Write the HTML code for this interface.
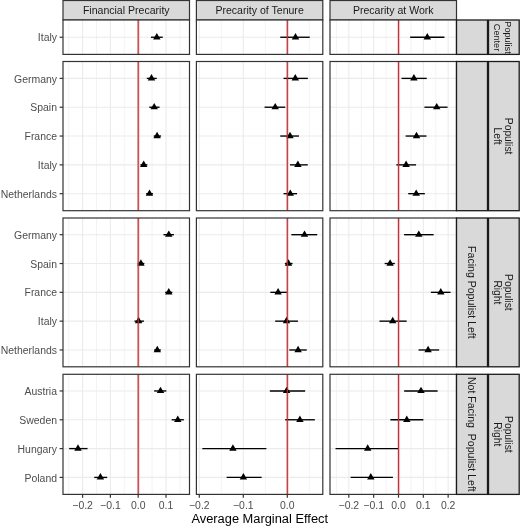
<!DOCTYPE html>
<html><head><meta charset="utf-8"><style>
html,body{margin:0;padding:0;background:#fff;width:520px;height:526px;overflow:hidden}
svg{display:block;font-family:"Liberation Sans", sans-serif;will-change:transform}
</style></head><body>
<svg width="520" height="526" viewBox="0 0 520 526">
<rect x="0" y="0" width="520" height="526" fill="#ffffff"/>
<rect x="63" y="0.5" width="126.5" height="19.5" fill="#D9D9D9" stroke="#333333" stroke-width="1.2"/>
<text x="126.25" y="13.8" text-anchor="middle" font-size="10.55" fill="#1A1A1A">Financial Precarity</text>
<rect x="196.4" y="0.5" width="126.4" height="19.5" fill="#D9D9D9" stroke="#333333" stroke-width="1.2"/>
<text x="259.6" y="13.8" text-anchor="middle" font-size="10.55" fill="#1A1A1A">Precarity of Tenure</text>
<rect x="330" y="0.5" width="126.5" height="19.5" fill="#D9D9D9" stroke="#333333" stroke-width="1.2"/>
<text x="393.25" y="13.8" text-anchor="middle" font-size="10.55" fill="#1A1A1A">Precarity at Work</text>
<rect x="63" y="20" width="126.5" height="34.4" fill="#ffffff"/>
<line x1="68.7" y1="20" x2="68.7" y2="54.4" stroke="#EBEBEB" stroke-width="0.6"/>
<line x1="82.6" y1="20" x2="82.6" y2="54.4" stroke="#EBEBEB" stroke-width="1.1"/>
<line x1="96.5" y1="20" x2="96.5" y2="54.4" stroke="#EBEBEB" stroke-width="0.6"/>
<line x1="110.4" y1="20" x2="110.4" y2="54.4" stroke="#EBEBEB" stroke-width="1.1"/>
<line x1="124.3" y1="20" x2="124.3" y2="54.4" stroke="#EBEBEB" stroke-width="0.6"/>
<line x1="138.2" y1="20" x2="138.2" y2="54.4" stroke="#EBEBEB" stroke-width="1.1"/>
<line x1="152.1" y1="20" x2="152.1" y2="54.4" stroke="#EBEBEB" stroke-width="0.6"/>
<line x1="166" y1="20" x2="166" y2="54.4" stroke="#EBEBEB" stroke-width="1.1"/>
<line x1="179.9" y1="20" x2="179.9" y2="54.4" stroke="#EBEBEB" stroke-width="0.6"/>
<line x1="63" y1="37.25" x2="189.5" y2="37.25" stroke="#EBEBEB" stroke-width="1.1"/>
<line x1="138.5" y1="20" x2="138.5" y2="54.4" stroke="#FFCCCC" stroke-width="2.6"/>
<line x1="150.95" y1="37.25" x2="162.75" y2="37.25" stroke="#000" stroke-width="1.35"/>
<path d="M156.8 32.95L160.52 39.4L153.08 39.4Z" fill="#000"/>
<line x1="138.2" y1="20" x2="138.2" y2="54.4" stroke="#B03A42" stroke-width="1.2"/>
<rect x="63" y="20" width="126.5" height="34.4" fill="none" stroke="#333333" stroke-width="1.2"/>
<rect x="196.4" y="20" width="126.4" height="34.4" fill="#ffffff"/>
<line x1="199.3" y1="20" x2="199.3" y2="54.4" stroke="#EBEBEB" stroke-width="1.1"/>
<line x1="221.3" y1="20" x2="221.3" y2="54.4" stroke="#EBEBEB" stroke-width="0.6"/>
<line x1="243.3" y1="20" x2="243.3" y2="54.4" stroke="#EBEBEB" stroke-width="1.1"/>
<line x1="265.3" y1="20" x2="265.3" y2="54.4" stroke="#EBEBEB" stroke-width="0.6"/>
<line x1="287.3" y1="20" x2="287.3" y2="54.4" stroke="#EBEBEB" stroke-width="1.1"/>
<line x1="309.3" y1="20" x2="309.3" y2="54.4" stroke="#EBEBEB" stroke-width="0.6"/>
<line x1="196.4" y1="37.25" x2="322.8" y2="37.25" stroke="#EBEBEB" stroke-width="1.1"/>
<line x1="287.6" y1="20" x2="287.6" y2="54.4" stroke="#FFCCCC" stroke-width="2.6"/>
<line x1="280.25" y1="37.25" x2="309.75" y2="37.25" stroke="#000" stroke-width="1.35"/>
<path d="M295.5 32.95L299.22 39.4L291.78 39.4Z" fill="#000"/>
<line x1="287.3" y1="20" x2="287.3" y2="54.4" stroke="#B03A42" stroke-width="1.2"/>
<rect x="196.4" y="20" width="126.4" height="34.4" fill="none" stroke="#333333" stroke-width="1.2"/>
<rect x="330" y="20" width="126.5" height="34.4" fill="#ffffff"/>
<line x1="336.43" y1="20" x2="336.43" y2="54.4" stroke="#EBEBEB" stroke-width="0.6"/>
<line x1="348.84" y1="20" x2="348.84" y2="54.4" stroke="#EBEBEB" stroke-width="1.1"/>
<line x1="361.25" y1="20" x2="361.25" y2="54.4" stroke="#EBEBEB" stroke-width="0.6"/>
<line x1="373.67" y1="20" x2="373.67" y2="54.4" stroke="#EBEBEB" stroke-width="1.1"/>
<line x1="386.08" y1="20" x2="386.08" y2="54.4" stroke="#EBEBEB" stroke-width="0.6"/>
<line x1="398.5" y1="20" x2="398.5" y2="54.4" stroke="#EBEBEB" stroke-width="1.1"/>
<line x1="410.92" y1="20" x2="410.92" y2="54.4" stroke="#EBEBEB" stroke-width="0.6"/>
<line x1="423.33" y1="20" x2="423.33" y2="54.4" stroke="#EBEBEB" stroke-width="1.1"/>
<line x1="435.75" y1="20" x2="435.75" y2="54.4" stroke="#EBEBEB" stroke-width="0.6"/>
<line x1="448.16" y1="20" x2="448.16" y2="54.4" stroke="#EBEBEB" stroke-width="1.1"/>
<line x1="330" y1="37.25" x2="456.5" y2="37.25" stroke="#EBEBEB" stroke-width="1.1"/>
<line x1="398.8" y1="20" x2="398.8" y2="54.4" stroke="#FFCCCC" stroke-width="2.6"/>
<line x1="410.15" y1="37.25" x2="444.45" y2="37.25" stroke="#000" stroke-width="1.35"/>
<path d="M427.3 32.95L431.02 39.4L423.58 39.4Z" fill="#000"/>
<line x1="398.5" y1="20" x2="398.5" y2="54.4" stroke="#B03A42" stroke-width="1.2"/>
<rect x="330" y="20" width="126.5" height="34.4" fill="none" stroke="#333333" stroke-width="1.2"/>
<line x1="59.6" y1="37.25" x2="63" y2="37.25" stroke="#333333" stroke-width="1.2"/>
<text x="57.0" y="41.35" text-anchor="end" font-size="10.45" fill="#4D4D4D">Italy</text>
<rect x="63" y="61.5" width="126.5" height="149.2" fill="#ffffff"/>
<line x1="68.7" y1="61.5" x2="68.7" y2="210.7" stroke="#EBEBEB" stroke-width="0.6"/>
<line x1="82.6" y1="61.5" x2="82.6" y2="210.7" stroke="#EBEBEB" stroke-width="1.1"/>
<line x1="96.5" y1="61.5" x2="96.5" y2="210.7" stroke="#EBEBEB" stroke-width="0.6"/>
<line x1="110.4" y1="61.5" x2="110.4" y2="210.7" stroke="#EBEBEB" stroke-width="1.1"/>
<line x1="124.3" y1="61.5" x2="124.3" y2="210.7" stroke="#EBEBEB" stroke-width="0.6"/>
<line x1="138.2" y1="61.5" x2="138.2" y2="210.7" stroke="#EBEBEB" stroke-width="1.1"/>
<line x1="152.1" y1="61.5" x2="152.1" y2="210.7" stroke="#EBEBEB" stroke-width="0.6"/>
<line x1="166" y1="61.5" x2="166" y2="210.7" stroke="#EBEBEB" stroke-width="1.1"/>
<line x1="179.9" y1="61.5" x2="179.9" y2="210.7" stroke="#EBEBEB" stroke-width="0.6"/>
<line x1="63" y1="78.4" x2="189.5" y2="78.4" stroke="#EBEBEB" stroke-width="1.1"/>
<line x1="63" y1="107.22" x2="189.5" y2="107.22" stroke="#EBEBEB" stroke-width="1.1"/>
<line x1="63" y1="136.04" x2="189.5" y2="136.04" stroke="#EBEBEB" stroke-width="1.1"/>
<line x1="63" y1="164.86" x2="189.5" y2="164.86" stroke="#EBEBEB" stroke-width="1.1"/>
<line x1="63" y1="193.68" x2="189.5" y2="193.68" stroke="#EBEBEB" stroke-width="1.1"/>
<line x1="138.5" y1="61.5" x2="138.5" y2="210.7" stroke="#FFCCCC" stroke-width="2.6"/>
<line x1="146.75" y1="78.4" x2="156.75" y2="78.4" stroke="#000" stroke-width="1.35"/>
<path d="M151.5 74.1L155.22 80.55L147.78 80.55Z" fill="#000"/>
<line x1="149.25" y1="107.22" x2="159.55" y2="107.22" stroke="#000" stroke-width="1.35"/>
<path d="M154.2 102.92L157.92 109.37L150.48 109.37Z" fill="#000"/>
<line x1="153.75" y1="136.04" x2="161.05" y2="136.04" stroke="#000" stroke-width="1.35"/>
<path d="M157.1 131.74L160.82 138.19L153.38 138.19Z" fill="#000"/>
<line x1="140.45" y1="164.86" x2="147.35" y2="164.86" stroke="#000" stroke-width="1.35"/>
<path d="M143.7 160.56L147.42 167.01L139.98 167.01Z" fill="#000"/>
<line x1="146.15" y1="193.68" x2="152.95" y2="193.68" stroke="#000" stroke-width="1.35"/>
<path d="M149.5 189.38L153.22 195.83L145.78 195.83Z" fill="#000"/>
<line x1="138.2" y1="61.5" x2="138.2" y2="210.7" stroke="#B03A42" stroke-width="1.2"/>
<rect x="63" y="61.5" width="126.5" height="149.2" fill="none" stroke="#333333" stroke-width="1.2"/>
<rect x="196.4" y="61.5" width="126.4" height="149.2" fill="#ffffff"/>
<line x1="199.3" y1="61.5" x2="199.3" y2="210.7" stroke="#EBEBEB" stroke-width="1.1"/>
<line x1="221.3" y1="61.5" x2="221.3" y2="210.7" stroke="#EBEBEB" stroke-width="0.6"/>
<line x1="243.3" y1="61.5" x2="243.3" y2="210.7" stroke="#EBEBEB" stroke-width="1.1"/>
<line x1="265.3" y1="61.5" x2="265.3" y2="210.7" stroke="#EBEBEB" stroke-width="0.6"/>
<line x1="287.3" y1="61.5" x2="287.3" y2="210.7" stroke="#EBEBEB" stroke-width="1.1"/>
<line x1="309.3" y1="61.5" x2="309.3" y2="210.7" stroke="#EBEBEB" stroke-width="0.6"/>
<line x1="196.4" y1="78.4" x2="322.8" y2="78.4" stroke="#EBEBEB" stroke-width="1.1"/>
<line x1="196.4" y1="107.22" x2="322.8" y2="107.22" stroke="#EBEBEB" stroke-width="1.1"/>
<line x1="196.4" y1="136.04" x2="322.8" y2="136.04" stroke="#EBEBEB" stroke-width="1.1"/>
<line x1="196.4" y1="164.86" x2="322.8" y2="164.86" stroke="#EBEBEB" stroke-width="1.1"/>
<line x1="196.4" y1="193.68" x2="322.8" y2="193.68" stroke="#EBEBEB" stroke-width="1.1"/>
<line x1="287.6" y1="61.5" x2="287.6" y2="210.7" stroke="#FFCCCC" stroke-width="2.6"/>
<line x1="283.55" y1="78.4" x2="307.85" y2="78.4" stroke="#000" stroke-width="1.35"/>
<path d="M295.3 74.1L299.02 80.55L291.58 80.55Z" fill="#000"/>
<line x1="264.55" y1="107.22" x2="285.25" y2="107.22" stroke="#000" stroke-width="1.35"/>
<path d="M275.2 102.92L278.92 109.37L271.48 109.37Z" fill="#000"/>
<line x1="280.25" y1="136.04" x2="298.95" y2="136.04" stroke="#000" stroke-width="1.35"/>
<path d="M290 131.74L293.72 138.19L286.28 138.19Z" fill="#000"/>
<line x1="290.05" y1="164.86" x2="307.75" y2="164.86" stroke="#000" stroke-width="1.35"/>
<path d="M297.9 160.56L301.62 167.01L294.18 167.01Z" fill="#000"/>
<line x1="283.55" y1="193.68" x2="297.05" y2="193.68" stroke="#000" stroke-width="1.35"/>
<path d="M290.3 189.38L294.02 195.83L286.58 195.83Z" fill="#000"/>
<line x1="287.3" y1="61.5" x2="287.3" y2="210.7" stroke="#B03A42" stroke-width="1.2"/>
<rect x="196.4" y="61.5" width="126.4" height="149.2" fill="none" stroke="#333333" stroke-width="1.2"/>
<rect x="330" y="61.5" width="126.5" height="149.2" fill="#ffffff"/>
<line x1="336.43" y1="61.5" x2="336.43" y2="210.7" stroke="#EBEBEB" stroke-width="0.6"/>
<line x1="348.84" y1="61.5" x2="348.84" y2="210.7" stroke="#EBEBEB" stroke-width="1.1"/>
<line x1="361.25" y1="61.5" x2="361.25" y2="210.7" stroke="#EBEBEB" stroke-width="0.6"/>
<line x1="373.67" y1="61.5" x2="373.67" y2="210.7" stroke="#EBEBEB" stroke-width="1.1"/>
<line x1="386.08" y1="61.5" x2="386.08" y2="210.7" stroke="#EBEBEB" stroke-width="0.6"/>
<line x1="398.5" y1="61.5" x2="398.5" y2="210.7" stroke="#EBEBEB" stroke-width="1.1"/>
<line x1="410.92" y1="61.5" x2="410.92" y2="210.7" stroke="#EBEBEB" stroke-width="0.6"/>
<line x1="423.33" y1="61.5" x2="423.33" y2="210.7" stroke="#EBEBEB" stroke-width="1.1"/>
<line x1="435.75" y1="61.5" x2="435.75" y2="210.7" stroke="#EBEBEB" stroke-width="0.6"/>
<line x1="448.16" y1="61.5" x2="448.16" y2="210.7" stroke="#EBEBEB" stroke-width="1.1"/>
<line x1="330" y1="78.4" x2="456.5" y2="78.4" stroke="#EBEBEB" stroke-width="1.1"/>
<line x1="330" y1="107.22" x2="456.5" y2="107.22" stroke="#EBEBEB" stroke-width="1.1"/>
<line x1="330" y1="136.04" x2="456.5" y2="136.04" stroke="#EBEBEB" stroke-width="1.1"/>
<line x1="330" y1="164.86" x2="456.5" y2="164.86" stroke="#EBEBEB" stroke-width="1.1"/>
<line x1="330" y1="193.68" x2="456.5" y2="193.68" stroke="#EBEBEB" stroke-width="1.1"/>
<line x1="398.8" y1="61.5" x2="398.8" y2="210.7" stroke="#FFCCCC" stroke-width="2.6"/>
<line x1="401.55" y1="78.4" x2="426.75" y2="78.4" stroke="#000" stroke-width="1.35"/>
<path d="M413.9 74.1L417.62 80.55L410.18 80.55Z" fill="#000"/>
<line x1="424.45" y1="107.22" x2="447.55" y2="107.22" stroke="#000" stroke-width="1.35"/>
<path d="M436.7 102.92L440.42 109.37L432.98 109.37Z" fill="#000"/>
<line x1="405.65" y1="136.04" x2="426.45" y2="136.04" stroke="#000" stroke-width="1.35"/>
<path d="M416.5 131.74L420.22 138.19L412.78 138.19Z" fill="#000"/>
<line x1="396.35" y1="164.86" x2="416.05" y2="164.86" stroke="#000" stroke-width="1.35"/>
<path d="M406.1 160.56L409.82 167.01L402.38 167.01Z" fill="#000"/>
<line x1="408.25" y1="193.68" x2="424.85" y2="193.68" stroke="#000" stroke-width="1.35"/>
<path d="M416.2 189.38L419.92 195.83L412.48 195.83Z" fill="#000"/>
<line x1="398.5" y1="61.5" x2="398.5" y2="210.7" stroke="#B03A42" stroke-width="1.2"/>
<rect x="330" y="61.5" width="126.5" height="149.2" fill="none" stroke="#333333" stroke-width="1.2"/>
<line x1="59.6" y1="78.4" x2="63" y2="78.4" stroke="#333333" stroke-width="1.2"/>
<text x="57.0" y="82.5" text-anchor="end" font-size="10.45" fill="#4D4D4D">Germany</text>
<line x1="59.6" y1="107.22" x2="63" y2="107.22" stroke="#333333" stroke-width="1.2"/>
<text x="57.0" y="111.32" text-anchor="end" font-size="10.45" fill="#4D4D4D">Spain</text>
<line x1="59.6" y1="136.04" x2="63" y2="136.04" stroke="#333333" stroke-width="1.2"/>
<text x="57.0" y="140.14" text-anchor="end" font-size="10.45" fill="#4D4D4D">France</text>
<line x1="59.6" y1="164.86" x2="63" y2="164.86" stroke="#333333" stroke-width="1.2"/>
<text x="57.0" y="168.96" text-anchor="end" font-size="10.45" fill="#4D4D4D">Italy</text>
<line x1="59.6" y1="193.68" x2="63" y2="193.68" stroke="#333333" stroke-width="1.2"/>
<text x="57.0" y="197.78" text-anchor="end" font-size="10.45" fill="#4D4D4D">Netherlands</text>
<rect x="63" y="218" width="126.5" height="148.8" fill="#ffffff"/>
<line x1="68.7" y1="218" x2="68.7" y2="366.8" stroke="#EBEBEB" stroke-width="0.6"/>
<line x1="82.6" y1="218" x2="82.6" y2="366.8" stroke="#EBEBEB" stroke-width="1.1"/>
<line x1="96.5" y1="218" x2="96.5" y2="366.8" stroke="#EBEBEB" stroke-width="0.6"/>
<line x1="110.4" y1="218" x2="110.4" y2="366.8" stroke="#EBEBEB" stroke-width="1.1"/>
<line x1="124.3" y1="218" x2="124.3" y2="366.8" stroke="#EBEBEB" stroke-width="0.6"/>
<line x1="138.2" y1="218" x2="138.2" y2="366.8" stroke="#EBEBEB" stroke-width="1.1"/>
<line x1="152.1" y1="218" x2="152.1" y2="366.8" stroke="#EBEBEB" stroke-width="0.6"/>
<line x1="166" y1="218" x2="166" y2="366.8" stroke="#EBEBEB" stroke-width="1.1"/>
<line x1="179.9" y1="218" x2="179.9" y2="366.8" stroke="#EBEBEB" stroke-width="0.6"/>
<line x1="63" y1="234.7" x2="189.5" y2="234.7" stroke="#EBEBEB" stroke-width="1.1"/>
<line x1="63" y1="263.52" x2="189.5" y2="263.52" stroke="#EBEBEB" stroke-width="1.1"/>
<line x1="63" y1="292.34" x2="189.5" y2="292.34" stroke="#EBEBEB" stroke-width="1.1"/>
<line x1="63" y1="321.16" x2="189.5" y2="321.16" stroke="#EBEBEB" stroke-width="1.1"/>
<line x1="63" y1="349.98" x2="189.5" y2="349.98" stroke="#EBEBEB" stroke-width="1.1"/>
<line x1="138.5" y1="218" x2="138.5" y2="366.8" stroke="#FFCCCC" stroke-width="2.6"/>
<line x1="163.45" y1="234.7" x2="173.95" y2="234.7" stroke="#000" stroke-width="1.35"/>
<path d="M168.8 230.4L172.52 236.85L165.08 236.85Z" fill="#000"/>
<line x1="137.65" y1="263.52" x2="144.35" y2="263.52" stroke="#000" stroke-width="1.35"/>
<path d="M140.9 259.22L144.62 265.67L137.18 265.67Z" fill="#000"/>
<line x1="165.15" y1="292.34" x2="172.35" y2="292.34" stroke="#000" stroke-width="1.35"/>
<path d="M168.8 288.04L172.52 294.49L165.08 294.49Z" fill="#000"/>
<line x1="134.45" y1="321.16" x2="143.95" y2="321.16" stroke="#000" stroke-width="1.35"/>
<path d="M138.6 316.86L142.32 323.31L134.88 323.31Z" fill="#000"/>
<line x1="154.15" y1="349.98" x2="160.85" y2="349.98" stroke="#000" stroke-width="1.35"/>
<path d="M157.3 345.68L161.02 352.13L153.58 352.13Z" fill="#000"/>
<line x1="138.2" y1="218" x2="138.2" y2="366.8" stroke="#B03A42" stroke-width="1.2"/>
<rect x="63" y="218" width="126.5" height="148.8" fill="none" stroke="#333333" stroke-width="1.2"/>
<rect x="196.4" y="218" width="126.4" height="148.8" fill="#ffffff"/>
<line x1="199.3" y1="218" x2="199.3" y2="366.8" stroke="#EBEBEB" stroke-width="1.1"/>
<line x1="221.3" y1="218" x2="221.3" y2="366.8" stroke="#EBEBEB" stroke-width="0.6"/>
<line x1="243.3" y1="218" x2="243.3" y2="366.8" stroke="#EBEBEB" stroke-width="1.1"/>
<line x1="265.3" y1="218" x2="265.3" y2="366.8" stroke="#EBEBEB" stroke-width="0.6"/>
<line x1="287.3" y1="218" x2="287.3" y2="366.8" stroke="#EBEBEB" stroke-width="1.1"/>
<line x1="309.3" y1="218" x2="309.3" y2="366.8" stroke="#EBEBEB" stroke-width="0.6"/>
<line x1="196.4" y1="234.7" x2="322.8" y2="234.7" stroke="#EBEBEB" stroke-width="1.1"/>
<line x1="196.4" y1="263.52" x2="322.8" y2="263.52" stroke="#EBEBEB" stroke-width="1.1"/>
<line x1="196.4" y1="292.34" x2="322.8" y2="292.34" stroke="#EBEBEB" stroke-width="1.1"/>
<line x1="196.4" y1="321.16" x2="322.8" y2="321.16" stroke="#EBEBEB" stroke-width="1.1"/>
<line x1="196.4" y1="349.98" x2="322.8" y2="349.98" stroke="#EBEBEB" stroke-width="1.1"/>
<line x1="287.6" y1="218" x2="287.6" y2="366.8" stroke="#FFCCCC" stroke-width="2.6"/>
<line x1="291.35" y1="234.7" x2="317.25" y2="234.7" stroke="#000" stroke-width="1.35"/>
<path d="M304.5 230.4L308.22 236.85L300.78 236.85Z" fill="#000"/>
<line x1="284.85" y1="263.52" x2="292.55" y2="263.52" stroke="#000" stroke-width="1.35"/>
<path d="M288.5 259.22L292.22 265.67L284.78 265.67Z" fill="#000"/>
<line x1="270.35" y1="292.34" x2="286.85" y2="292.34" stroke="#000" stroke-width="1.35"/>
<path d="M278.1 288.04L281.82 294.49L274.38 294.49Z" fill="#000"/>
<line x1="275.15" y1="321.16" x2="297.95" y2="321.16" stroke="#000" stroke-width="1.35"/>
<path d="M286.5 316.86L290.22 323.31L282.78 323.31Z" fill="#000"/>
<line x1="289.25" y1="349.98" x2="306.75" y2="349.98" stroke="#000" stroke-width="1.35"/>
<path d="M298.1 345.68L301.82 352.13L294.38 352.13Z" fill="#000"/>
<line x1="287.3" y1="218" x2="287.3" y2="366.8" stroke="#B03A42" stroke-width="1.2"/>
<rect x="196.4" y="218" width="126.4" height="148.8" fill="none" stroke="#333333" stroke-width="1.2"/>
<rect x="330" y="218" width="126.5" height="148.8" fill="#ffffff"/>
<line x1="336.43" y1="218" x2="336.43" y2="366.8" stroke="#EBEBEB" stroke-width="0.6"/>
<line x1="348.84" y1="218" x2="348.84" y2="366.8" stroke="#EBEBEB" stroke-width="1.1"/>
<line x1="361.25" y1="218" x2="361.25" y2="366.8" stroke="#EBEBEB" stroke-width="0.6"/>
<line x1="373.67" y1="218" x2="373.67" y2="366.8" stroke="#EBEBEB" stroke-width="1.1"/>
<line x1="386.08" y1="218" x2="386.08" y2="366.8" stroke="#EBEBEB" stroke-width="0.6"/>
<line x1="398.5" y1="218" x2="398.5" y2="366.8" stroke="#EBEBEB" stroke-width="1.1"/>
<line x1="410.92" y1="218" x2="410.92" y2="366.8" stroke="#EBEBEB" stroke-width="0.6"/>
<line x1="423.33" y1="218" x2="423.33" y2="366.8" stroke="#EBEBEB" stroke-width="1.1"/>
<line x1="435.75" y1="218" x2="435.75" y2="366.8" stroke="#EBEBEB" stroke-width="0.6"/>
<line x1="448.16" y1="218" x2="448.16" y2="366.8" stroke="#EBEBEB" stroke-width="1.1"/>
<line x1="330" y1="234.7" x2="456.5" y2="234.7" stroke="#EBEBEB" stroke-width="1.1"/>
<line x1="330" y1="263.52" x2="456.5" y2="263.52" stroke="#EBEBEB" stroke-width="1.1"/>
<line x1="330" y1="292.34" x2="456.5" y2="292.34" stroke="#EBEBEB" stroke-width="1.1"/>
<line x1="330" y1="321.16" x2="456.5" y2="321.16" stroke="#EBEBEB" stroke-width="1.1"/>
<line x1="330" y1="349.98" x2="456.5" y2="349.98" stroke="#EBEBEB" stroke-width="1.1"/>
<line x1="398.8" y1="218" x2="398.8" y2="366.8" stroke="#FFCCCC" stroke-width="2.6"/>
<line x1="404.05" y1="234.7" x2="433.65" y2="234.7" stroke="#000" stroke-width="1.35"/>
<path d="M418.8 230.4L422.52 236.85L415.08 236.85Z" fill="#000"/>
<line x1="384.65" y1="263.52" x2="394.85" y2="263.52" stroke="#000" stroke-width="1.35"/>
<path d="M390.1 259.22L393.82 265.67L386.38 265.67Z" fill="#000"/>
<line x1="430.85" y1="292.34" x2="450.55" y2="292.34" stroke="#000" stroke-width="1.35"/>
<path d="M440.8 288.04L444.52 294.49L437.08 294.49Z" fill="#000"/>
<line x1="379.45" y1="321.16" x2="406.65" y2="321.16" stroke="#000" stroke-width="1.35"/>
<path d="M392.7 316.86L396.42 323.31L388.98 323.31Z" fill="#000"/>
<line x1="418.55" y1="349.98" x2="439.15" y2="349.98" stroke="#000" stroke-width="1.35"/>
<path d="M428.1 345.68L431.82 352.13L424.38 352.13Z" fill="#000"/>
<line x1="398.5" y1="218" x2="398.5" y2="366.8" stroke="#B03A42" stroke-width="1.2"/>
<rect x="330" y="218" width="126.5" height="148.8" fill="none" stroke="#333333" stroke-width="1.2"/>
<line x1="59.6" y1="234.7" x2="63" y2="234.7" stroke="#333333" stroke-width="1.2"/>
<text x="57.0" y="238.8" text-anchor="end" font-size="10.45" fill="#4D4D4D">Germany</text>
<line x1="59.6" y1="263.52" x2="63" y2="263.52" stroke="#333333" stroke-width="1.2"/>
<text x="57.0" y="267.62" text-anchor="end" font-size="10.45" fill="#4D4D4D">Spain</text>
<line x1="59.6" y1="292.34" x2="63" y2="292.34" stroke="#333333" stroke-width="1.2"/>
<text x="57.0" y="296.44" text-anchor="end" font-size="10.45" fill="#4D4D4D">France</text>
<line x1="59.6" y1="321.16" x2="63" y2="321.16" stroke="#333333" stroke-width="1.2"/>
<text x="57.0" y="325.26" text-anchor="end" font-size="10.45" fill="#4D4D4D">Italy</text>
<line x1="59.6" y1="349.98" x2="63" y2="349.98" stroke="#333333" stroke-width="1.2"/>
<text x="57.0" y="354.08" text-anchor="end" font-size="10.45" fill="#4D4D4D">Netherlands</text>
<rect x="63" y="374.3" width="126.5" height="120.1" fill="#ffffff"/>
<line x1="68.7" y1="374.3" x2="68.7" y2="494.4" stroke="#EBEBEB" stroke-width="0.6"/>
<line x1="82.6" y1="374.3" x2="82.6" y2="494.4" stroke="#EBEBEB" stroke-width="1.1"/>
<line x1="96.5" y1="374.3" x2="96.5" y2="494.4" stroke="#EBEBEB" stroke-width="0.6"/>
<line x1="110.4" y1="374.3" x2="110.4" y2="494.4" stroke="#EBEBEB" stroke-width="1.1"/>
<line x1="124.3" y1="374.3" x2="124.3" y2="494.4" stroke="#EBEBEB" stroke-width="0.6"/>
<line x1="138.2" y1="374.3" x2="138.2" y2="494.4" stroke="#EBEBEB" stroke-width="1.1"/>
<line x1="152.1" y1="374.3" x2="152.1" y2="494.4" stroke="#EBEBEB" stroke-width="0.6"/>
<line x1="166" y1="374.3" x2="166" y2="494.4" stroke="#EBEBEB" stroke-width="1.1"/>
<line x1="179.9" y1="374.3" x2="179.9" y2="494.4" stroke="#EBEBEB" stroke-width="0.6"/>
<line x1="63" y1="390.95" x2="189.5" y2="390.95" stroke="#EBEBEB" stroke-width="1.1"/>
<line x1="63" y1="419.77" x2="189.5" y2="419.77" stroke="#EBEBEB" stroke-width="1.1"/>
<line x1="63" y1="448.59" x2="189.5" y2="448.59" stroke="#EBEBEB" stroke-width="1.1"/>
<line x1="63" y1="477.41" x2="189.5" y2="477.41" stroke="#EBEBEB" stroke-width="1.1"/>
<line x1="138.5" y1="374.3" x2="138.5" y2="494.4" stroke="#FFCCCC" stroke-width="2.6"/>
<line x1="154.15" y1="390.95" x2="166.35" y2="390.95" stroke="#000" stroke-width="1.35"/>
<path d="M160.5 386.65L164.22 393.1L156.78 393.1Z" fill="#000"/>
<line x1="171.65" y1="419.77" x2="183.85" y2="419.77" stroke="#000" stroke-width="1.35"/>
<path d="M177.8 415.47L181.52 421.92L174.08 421.92Z" fill="#000"/>
<line x1="69.15" y1="448.59" x2="87.55" y2="448.59" stroke="#000" stroke-width="1.35"/>
<path d="M78 444.29L81.72 450.74L74.28 450.74Z" fill="#000"/>
<line x1="94.25" y1="477.41" x2="107.15" y2="477.41" stroke="#000" stroke-width="1.35"/>
<path d="M100.4 473.11L104.12 479.56L96.68 479.56Z" fill="#000"/>
<line x1="138.2" y1="374.3" x2="138.2" y2="494.4" stroke="#B03A42" stroke-width="1.2"/>
<rect x="63" y="374.3" width="126.5" height="120.1" fill="none" stroke="#333333" stroke-width="1.2"/>
<rect x="196.4" y="374.3" width="126.4" height="120.1" fill="#ffffff"/>
<line x1="199.3" y1="374.3" x2="199.3" y2="494.4" stroke="#EBEBEB" stroke-width="1.1"/>
<line x1="221.3" y1="374.3" x2="221.3" y2="494.4" stroke="#EBEBEB" stroke-width="0.6"/>
<line x1="243.3" y1="374.3" x2="243.3" y2="494.4" stroke="#EBEBEB" stroke-width="1.1"/>
<line x1="265.3" y1="374.3" x2="265.3" y2="494.4" stroke="#EBEBEB" stroke-width="0.6"/>
<line x1="287.3" y1="374.3" x2="287.3" y2="494.4" stroke="#EBEBEB" stroke-width="1.1"/>
<line x1="309.3" y1="374.3" x2="309.3" y2="494.4" stroke="#EBEBEB" stroke-width="0.6"/>
<line x1="196.4" y1="390.95" x2="322.8" y2="390.95" stroke="#EBEBEB" stroke-width="1.1"/>
<line x1="196.4" y1="419.77" x2="322.8" y2="419.77" stroke="#EBEBEB" stroke-width="1.1"/>
<line x1="196.4" y1="448.59" x2="322.8" y2="448.59" stroke="#EBEBEB" stroke-width="1.1"/>
<line x1="196.4" y1="477.41" x2="322.8" y2="477.41" stroke="#EBEBEB" stroke-width="1.1"/>
<line x1="287.6" y1="374.3" x2="287.6" y2="494.4" stroke="#FFCCCC" stroke-width="2.6"/>
<line x1="269.85" y1="390.95" x2="305.15" y2="390.95" stroke="#000" stroke-width="1.35"/>
<path d="M286.6 386.65L290.32 393.1L282.88 393.1Z" fill="#000"/>
<line x1="285.15" y1="419.77" x2="314.85" y2="419.77" stroke="#000" stroke-width="1.35"/>
<path d="M299.9 415.47L303.62 421.92L296.18 421.92Z" fill="#000"/>
<line x1="202.35" y1="448.59" x2="266.35" y2="448.59" stroke="#000" stroke-width="1.35"/>
<path d="M232.9 444.29L236.62 450.74L229.18 450.74Z" fill="#000"/>
<line x1="226.65" y1="477.41" x2="261.65" y2="477.41" stroke="#000" stroke-width="1.35"/>
<path d="M243.4 473.11L247.12 479.56L239.68 479.56Z" fill="#000"/>
<line x1="287.3" y1="374.3" x2="287.3" y2="494.4" stroke="#B03A42" stroke-width="1.2"/>
<rect x="196.4" y="374.3" width="126.4" height="120.1" fill="none" stroke="#333333" stroke-width="1.2"/>
<rect x="330" y="374.3" width="126.5" height="120.1" fill="#ffffff"/>
<line x1="336.43" y1="374.3" x2="336.43" y2="494.4" stroke="#EBEBEB" stroke-width="0.6"/>
<line x1="348.84" y1="374.3" x2="348.84" y2="494.4" stroke="#EBEBEB" stroke-width="1.1"/>
<line x1="361.25" y1="374.3" x2="361.25" y2="494.4" stroke="#EBEBEB" stroke-width="0.6"/>
<line x1="373.67" y1="374.3" x2="373.67" y2="494.4" stroke="#EBEBEB" stroke-width="1.1"/>
<line x1="386.08" y1="374.3" x2="386.08" y2="494.4" stroke="#EBEBEB" stroke-width="0.6"/>
<line x1="398.5" y1="374.3" x2="398.5" y2="494.4" stroke="#EBEBEB" stroke-width="1.1"/>
<line x1="410.92" y1="374.3" x2="410.92" y2="494.4" stroke="#EBEBEB" stroke-width="0.6"/>
<line x1="423.33" y1="374.3" x2="423.33" y2="494.4" stroke="#EBEBEB" stroke-width="1.1"/>
<line x1="435.75" y1="374.3" x2="435.75" y2="494.4" stroke="#EBEBEB" stroke-width="0.6"/>
<line x1="448.16" y1="374.3" x2="448.16" y2="494.4" stroke="#EBEBEB" stroke-width="1.1"/>
<line x1="330" y1="390.95" x2="456.5" y2="390.95" stroke="#EBEBEB" stroke-width="1.1"/>
<line x1="330" y1="419.77" x2="456.5" y2="419.77" stroke="#EBEBEB" stroke-width="1.1"/>
<line x1="330" y1="448.59" x2="456.5" y2="448.59" stroke="#EBEBEB" stroke-width="1.1"/>
<line x1="330" y1="477.41" x2="456.5" y2="477.41" stroke="#EBEBEB" stroke-width="1.1"/>
<line x1="398.8" y1="374.3" x2="398.8" y2="494.4" stroke="#FFCCCC" stroke-width="2.6"/>
<line x1="404.15" y1="390.95" x2="437.6" y2="390.95" stroke="#000" stroke-width="1.35"/>
<path d="M421 386.65L424.72 393.1L417.28 393.1Z" fill="#000"/>
<line x1="390.4" y1="419.77" x2="423.35" y2="419.77" stroke="#000" stroke-width="1.35"/>
<path d="M406.8 415.47L410.52 421.92L403.08 421.92Z" fill="#000"/>
<line x1="335.55" y1="448.59" x2="399.05" y2="448.59" stroke="#000" stroke-width="1.35"/>
<path d="M367.7 444.29L371.42 450.74L363.98 450.74Z" fill="#000"/>
<line x1="350.65" y1="477.41" x2="392.95" y2="477.41" stroke="#000" stroke-width="1.35"/>
<path d="M370.8 473.11L374.52 479.56L367.08 479.56Z" fill="#000"/>
<line x1="398.5" y1="374.3" x2="398.5" y2="494.4" stroke="#B03A42" stroke-width="1.2"/>
<rect x="330" y="374.3" width="126.5" height="120.1" fill="none" stroke="#333333" stroke-width="1.2"/>
<line x1="59.6" y1="390.95" x2="63" y2="390.95" stroke="#333333" stroke-width="1.2"/>
<text x="57.0" y="395.05" text-anchor="end" font-size="10.45" fill="#4D4D4D">Austria</text>
<line x1="59.6" y1="419.77" x2="63" y2="419.77" stroke="#333333" stroke-width="1.2"/>
<text x="57.0" y="423.87" text-anchor="end" font-size="10.45" fill="#4D4D4D">Sweden</text>
<line x1="59.6" y1="448.59" x2="63" y2="448.59" stroke="#333333" stroke-width="1.2"/>
<text x="57.0" y="452.69" text-anchor="end" font-size="10.45" fill="#4D4D4D">Hungary</text>
<line x1="59.6" y1="477.41" x2="63" y2="477.41" stroke="#333333" stroke-width="1.2"/>
<text x="57.0" y="481.51" text-anchor="end" font-size="10.45" fill="#4D4D4D">Poland</text>
<rect x="456.5" y="20" width="31" height="34.4" fill="#D9D9D9" stroke="#1a1a1a" stroke-width="1.3"/>
<rect x="488.5" y="20" width="30.7" height="34.4" fill="#D9D9D9" stroke="#1a1a1a" stroke-width="1.3"/>
<clipPath id="clip0"><rect x="456.5" y="20" width="62.7" height="34.4"/></clipPath>
<g clip-path="url(#clip0)">
<text transform="translate(505.0 37.5) rotate(90)" x="0" y="0" text-anchor="middle" font-size="9.1" fill="#1A1A1A">Populist</text>
<text transform="translate(494.0 37.5) rotate(90)" x="0" y="0" text-anchor="middle" font-size="9.1" fill="#1A1A1A">Center</text>
</g>
<rect x="456.5" y="61.5" width="31" height="149.2" fill="#D9D9D9" stroke="#1a1a1a" stroke-width="1.3"/>
<rect x="488.5" y="61.5" width="30.7" height="149.2" fill="#D9D9D9" stroke="#1a1a1a" stroke-width="1.3"/>
<clipPath id="clip1"><rect x="456.5" y="61.5" width="62.7" height="149.2"/></clipPath>
<g clip-path="url(#clip1)">
<text transform="translate(505.4 136.1) rotate(90)" x="0" y="0" text-anchor="middle" font-size="10.3" fill="#1A1A1A">Populist</text>
<text transform="translate(493.7 136.1) rotate(90)" x="0" y="0" text-anchor="middle" font-size="10.3" fill="#1A1A1A">Left</text>
</g>
<rect x="456.5" y="218" width="31" height="148.8" fill="#D9D9D9" stroke="#1a1a1a" stroke-width="1.3"/>
<rect x="488.5" y="218" width="30.7" height="148.8" fill="#D9D9D9" stroke="#1a1a1a" stroke-width="1.3"/>
<clipPath id="clip2"><rect x="456.5" y="218" width="62.7" height="148.8"/></clipPath>
<g clip-path="url(#clip2)">
<text transform="translate(468.4 292.4) rotate(90)" x="0" y="0" text-anchor="middle" font-size="10.55" fill="#1A1A1A" xml:space="preserve">Facing Populist Left</text>
<text transform="translate(505.4 292.4) rotate(90)" x="0" y="0" text-anchor="middle" font-size="10.3" fill="#1A1A1A">Populist</text>
<text transform="translate(493.7 292.4) rotate(90)" x="0" y="0" text-anchor="middle" font-size="10.3" fill="#1A1A1A">Right</text>
</g>
<rect x="456.5" y="374.3" width="31" height="120.1" fill="#D9D9D9" stroke="#1a1a1a" stroke-width="1.3"/>
<rect x="488.5" y="374.3" width="30.7" height="120.1" fill="#D9D9D9" stroke="#1a1a1a" stroke-width="1.3"/>
<clipPath id="clip3"><rect x="456.5" y="374.3" width="62.7" height="120.1"/></clipPath>
<g clip-path="url(#clip3)">
<text transform="translate(468.4 434.35) rotate(90)" x="0" y="0" text-anchor="middle" font-size="10.55" fill="#1A1A1A" xml:space="preserve">Not Facing  Populist Left</text>
<text transform="translate(505.4 434.35) rotate(90)" x="0" y="0" text-anchor="middle" font-size="10.3" fill="#1A1A1A">Populist</text>
<text transform="translate(493.7 434.35) rotate(90)" x="0" y="0" text-anchor="middle" font-size="10.3" fill="#1A1A1A">Right</text>
</g>
<line x1="82.6" y1="494.4" x2="82.6" y2="497.7" stroke="#333333" stroke-width="1.2"/>
<text x="82.6" y="508.9" text-anchor="middle" font-size="10.45" fill="#4D4D4D">−0.2</text>
<line x1="110.4" y1="494.4" x2="110.4" y2="497.7" stroke="#333333" stroke-width="1.2"/>
<text x="110.4" y="508.9" text-anchor="middle" font-size="10.45" fill="#4D4D4D">−0.1</text>
<line x1="138.2" y1="494.4" x2="138.2" y2="497.7" stroke="#333333" stroke-width="1.2"/>
<text x="138.2" y="508.9" text-anchor="middle" font-size="10.45" fill="#4D4D4D">0.0</text>
<line x1="166" y1="494.4" x2="166" y2="497.7" stroke="#333333" stroke-width="1.2"/>
<text x="166" y="508.9" text-anchor="middle" font-size="10.45" fill="#4D4D4D">0.1</text>
<line x1="199.3" y1="494.4" x2="199.3" y2="497.7" stroke="#333333" stroke-width="1.2"/>
<text x="199.3" y="508.9" text-anchor="middle" font-size="10.45" fill="#4D4D4D">−0.2</text>
<line x1="243.3" y1="494.4" x2="243.3" y2="497.7" stroke="#333333" stroke-width="1.2"/>
<text x="243.3" y="508.9" text-anchor="middle" font-size="10.45" fill="#4D4D4D">−0.1</text>
<line x1="287.3" y1="494.4" x2="287.3" y2="497.7" stroke="#333333" stroke-width="1.2"/>
<text x="287.3" y="508.9" text-anchor="middle" font-size="10.45" fill="#4D4D4D">0.0</text>
<line x1="348.84" y1="494.4" x2="348.84" y2="497.7" stroke="#333333" stroke-width="1.2"/>
<text x="348.84" y="508.9" text-anchor="middle" font-size="10.45" fill="#4D4D4D">−0.2</text>
<line x1="373.67" y1="494.4" x2="373.67" y2="497.7" stroke="#333333" stroke-width="1.2"/>
<text x="373.67" y="508.9" text-anchor="middle" font-size="10.45" fill="#4D4D4D">−0.1</text>
<line x1="398.5" y1="494.4" x2="398.5" y2="497.7" stroke="#333333" stroke-width="1.2"/>
<text x="398.5" y="508.9" text-anchor="middle" font-size="10.45" fill="#4D4D4D">0.0</text>
<line x1="423.33" y1="494.4" x2="423.33" y2="497.7" stroke="#333333" stroke-width="1.2"/>
<text x="423.33" y="508.9" text-anchor="middle" font-size="10.45" fill="#4D4D4D">0.1</text>
<line x1="448.16" y1="494.4" x2="448.16" y2="497.7" stroke="#333333" stroke-width="1.2"/>
<text x="448.16" y="508.9" text-anchor="middle" font-size="10.45" fill="#4D4D4D">0.2</text>
<text x="259.75" y="523.3" text-anchor="middle" font-size="12.85" fill="#000">Average Marginal Effect</text>
</svg>
</body></html>
